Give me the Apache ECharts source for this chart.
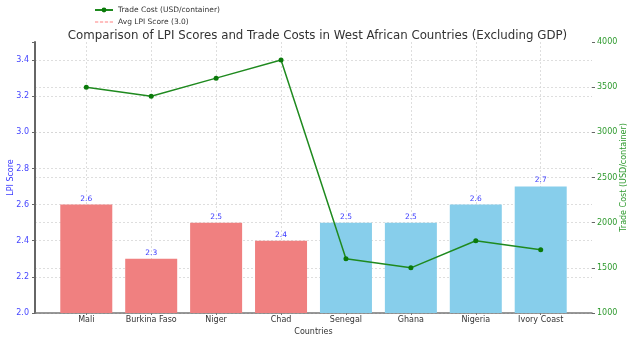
<!DOCTYPE html>
<html>
<head>
<meta charset="utf-8">
<script src="https://cdn.jsdelivr.net/npm/echarts@6/dist/echarts.min.js"></script>
<style>html,body{margin:0;padding:0;background:#fff}#c{width:635px;height:337px}</style>
</head>
<body>
<div id="c"></div>
<script>
const categories = ['Mali','Burkina Faso','Niger','Chad','Senegal','Ghana','Nigeria','Ivory Coast'];
const lpiScores = [2.6, 2.3, 2.5, 2.4, 2.5, 2.5, 2.6, 2.7];
const tradeCosts = [3500, 3400, 3600, 3800, 1600, 1500, 1800, 1700];
const landlocked = [true, true, true, true, false, false, false, false];
const avgLpi = 3.0;

const FONT = 'DejaVu Sans';
const idx = categories.map((_, i) => i);
const chart = echarts.init(document.getElementById('c'), null, {renderer: 'canvas'});
const gridLine = {show: true, lineStyle: {color: '#d6d6d6', type: [2, 2], width: 0.8}};
const dashIcon = 'path://M0,0H3V1H0Z M4.5,0H7.5V1H4.5Z M9,0H12V1H9Z M13.5,0H16.5V1H13.5Z';

chart.setOption({
  animation: false,
  textStyle: {fontFamily: FONT},
  title: {
    text: 'Comparison of LPI Scores and Trade Costs in West African Countries (Excluding GDP)',
    left: 'center', top: 25,
    textStyle: {fontFamily: FONT, fontSize: 11.8, fontWeight: 'normal', color: '#333'}
  },
  legend: {
    orient: 'vertical', left: 89, top: 1, itemGap: 4,
    itemWidth: 18, itemHeight: 6,
    textStyle: {fontFamily: FONT, fontSize: 7.5, color: '#333'},
    data: [
      {name: 'Trade Cost (USD/container)'},
      {name: 'Avg LPI Score (' + avgLpi.toFixed(1) + ')', icon: dashIcon, itemStyle: {color: '#ff8080'}}
    ]
  },
  grid: {left: 35, right: 43, top: 42, bottom: 24, containLabel: false, outerBoundsMode: 'none'},
  xAxis: {
    type: 'value', min: -0.79, max: 7.79,
    name: 'Countries', nameLocation: 'middle', nameGap: 15, nameMoveOverlap: false,
    nameTextStyle: {fontFamily: FONT, fontSize: 8, color: '#333'},
    axisLine: {show: true, onZero: false, lineStyle: {color: '#777', width: 1.5}},
    axisTick: {show: true, customValues: idx, length: 2, lineStyle: {color: '#777'}},
    axisLabel: {customValues: idx, fontFamily: FONT, fontSize: 8, color: '#333', margin: 3,
      formatter: v => categories[Math.round(v)] || ''},
    splitLine: gridLine
  },
  yAxis: [
    {
      type: 'value', min: 2.0, max: 3.5, interval: 0.2,
      name: 'LPI Score', nameLocation: 'middle', nameGap: 20, nameRotate: 90, nameMoveOverlap: false,
      nameTextStyle: {fontFamily: FONT, fontSize: 8, color: '#3b3bff'},
      axisLine: {show: true, onZero: false, lineStyle: {color: '#666', width: 2}},
      axisTick: {show: true, length: 3, lineStyle: {color: '#666'}},
      axisLabel: {fontFamily: FONT, fontSize: 8, color: '#4545ff', margin: 6,
        formatter: v => Math.abs(v * 5 - Math.round(v * 5)) < 1e-6 ? v.toFixed(1) : ''},
      splitLine: Object.assign({showMaxLine: false}, gridLine)
    },
    {
      type: 'value', min: 1000, max: 4000, interval: 500, position: 'right',
      name: 'Trade Cost (USD/container)', nameLocation: 'middle', nameGap: 28, nameRotate: 90, nameMoveOverlap: false,
      nameTextStyle: {fontFamily: FONT, fontSize: 8, color: '#2e9a2e'},
      axisLine: {show: false, onZero: false},
      axisTick: {show: true, length: 3, lineStyle: {color: '#666'}},
      axisLabel: {fontFamily: FONT, fontSize: 8, color: '#2e9a2e', margin: 5,
        formatter: v => String(v)},
      splitLine: Object.assign({showMaxLine: false}, gridLine)
    }
  ],
  series: [
    {
      type: 'bar', name: 'LPI', yAxisIndex: 0, barWidth: 52,
      data: lpiScores.map((v, i) => ({
        value: [i, v],
        itemStyle: {color: landlocked[i] ? '#F08080' : '#87CEEB'}
      })),
      label: {show: true, position: 'top', distance: 2, fontFamily: FONT, fontSize: 7.5, color: '#3b3bff',
        formatter: p => p.value[1].toFixed(1)},
      z: 2
    },
    {
      type: 'line', name: 'Trade Cost (USD/container)', yAxisIndex: 1,
      data: tradeCosts.map((v, i) => [i, v]),
      symbol: 'circle', symbolSize: 5,
      lineStyle: {color: '#1f8a1f', width: 1.5},
      itemStyle: {color: '#0a7a0a'},
      z: 5
    },
    {
      type: 'line', name: 'Avg LPI Score (' + avgLpi.toFixed(1) + ')', yAxisIndex: 0,
      data: [], symbol: 'none',
      lineStyle: {color: '#ff8080', type: 'dashed', width: 1},
      itemStyle: {color: '#ff8080'}
    }
  ]
});
</script>
</body>
</html>
